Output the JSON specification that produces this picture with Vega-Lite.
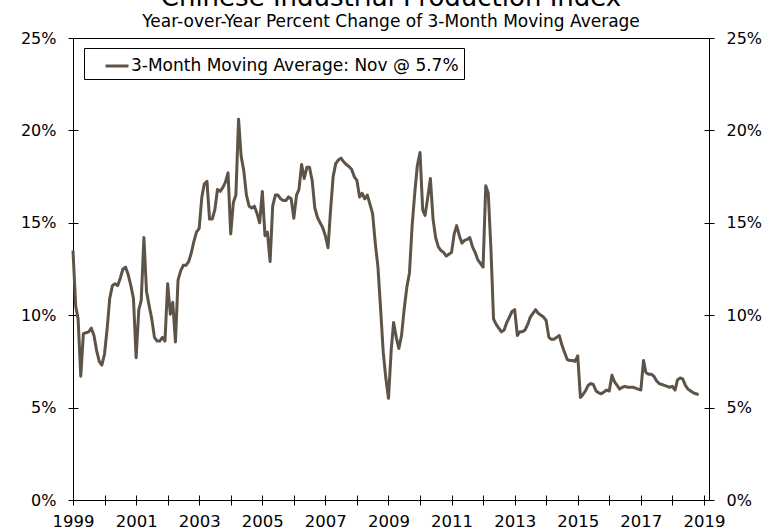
{
  "$schema": "https://vega.github.io/schema/vega-lite/v6.json",
  "width": 636,
  "height": 462,
  "autosize": "none",
  "padding": {"left": 73, "top": 38, "right": 62, "bottom": 29},
  "background": "white",
  "title": {
    "text": "Chinese Industrial Production Index",
    "subtitle": "Year-over-Year Percent Change of 3-Month Moving Average",
    "anchor": "middle",
    "font": "DejaVu Sans",
    "fontSize": 26,
    "fontWeight": "normal",
    "color": "black",
    "subtitleFont": "DejaVu Sans",
    "subtitleFontSize": 17,
    "subtitleColor": "black",
    "subtitlePadding": 3,
    "offset": 0
  },
  "config": {
    "view": {"stroke": "black", "strokeWidth": 1},
    "axis": {
      "grid": false,
      "domainColor": "black",
      "tickColor": "black",
      "labelColor": "black",
      "labelFont": "DejaVu Sans",
      "labelFontSize": 16,
      "title": null
    }
  },
  "data": {
    "values": [
      {"d": "1999-01", "v": 13.5}, {"d": "1999-02", "v": 10.5}, {"d": "1999-03", "v": 9.8}, {"d": "1999-04", "v": 6.7}, {"d": "1999-05", "v": 9.0}, {"d": "1999-06", "v": 9.05}, {"d": "1999-07", "v": 9.1}, {"d": "1999-08", "v": 9.3}, {"d": "1999-09", "v": 8.9}, {"d": "1999-10", "v": 8.1}, {"d": "1999-11", "v": 7.5}, {"d": "1999-12", "v": 7.3},
      {"d": "2000-01", "v": 7.9}, {"d": "2000-02", "v": 9.3}, {"d": "2000-03", "v": 10.9}, {"d": "2000-04", "v": 11.6}, {"d": "2000-05", "v": 11.7}, {"d": "2000-06", "v": 11.6}, {"d": "2000-07", "v": 12.0}, {"d": "2000-08", "v": 12.5}, {"d": "2000-09", "v": 12.6}, {"d": "2000-10", "v": 12.2}, {"d": "2000-11", "v": 11.6}, {"d": "2000-12", "v": 10.9},
      {"d": "2001-01", "v": 7.7}, {"d": "2001-02", "v": 10.3}, {"d": "2001-03", "v": 10.8}, {"d": "2001-04", "v": 14.2}, {"d": "2001-05", "v": 11.3}, {"d": "2001-06", "v": 10.5}, {"d": "2001-07", "v": 9.8}, {"d": "2001-08", "v": 8.8}, {"d": "2001-09", "v": 8.6}, {"d": "2001-10", "v": 8.6}, {"d": "2001-11", "v": 8.8}, {"d": "2001-12", "v": 8.6},
      {"d": "2002-01", "v": 11.7}, {"d": "2002-02", "v": 10.05}, {"d": "2002-03", "v": 10.7}, {"d": "2002-04", "v": 8.55}, {"d": "2002-05", "v": 11.9}, {"d": "2002-06", "v": 12.4}, {"d": "2002-07", "v": 12.7}, {"d": "2002-08", "v": 12.7}, {"d": "2002-09", "v": 12.9}, {"d": "2002-10", "v": 13.35}, {"d": "2002-11", "v": 14.0}, {"d": "2002-12", "v": 14.5},
      {"d": "2003-01", "v": 14.7}, {"d": "2003-02", "v": 16.4}, {"d": "2003-03", "v": 17.1}, {"d": "2003-04", "v": 17.25}, {"d": "2003-05", "v": 15.2}, {"d": "2003-06", "v": 15.2}, {"d": "2003-07", "v": 15.7}, {"d": "2003-08", "v": 16.8}, {"d": "2003-09", "v": 16.7}, {"d": "2003-10", "v": 16.9}, {"d": "2003-11", "v": 17.2}, {"d": "2003-12", "v": 17.7},
      {"d": "2004-01", "v": 14.4}, {"d": "2004-02", "v": 16.1}, {"d": "2004-03", "v": 16.5}, {"d": "2004-04", "v": 20.6}, {"d": "2004-05", "v": 18.6}, {"d": "2004-06", "v": 17.8}, {"d": "2004-07", "v": 16.5}, {"d": "2004-08", "v": 15.9}, {"d": "2004-09", "v": 15.8}, {"d": "2004-10", "v": 15.9}, {"d": "2004-11", "v": 15.5}, {"d": "2004-12", "v": 15.0},
      {"d": "2005-01", "v": 16.7}, {"d": "2005-02", "v": 14.3}, {"d": "2005-03", "v": 14.5}, {"d": "2005-04", "v": 12.9}, {"d": "2005-05", "v": 15.9}, {"d": "2005-06", "v": 16.5}, {"d": "2005-07", "v": 16.5}, {"d": "2005-08", "v": 16.3}, {"d": "2005-09", "v": 16.2}, {"d": "2005-10", "v": 16.2}, {"d": "2005-11", "v": 16.4}, {"d": "2005-12", "v": 16.3},
      {"d": "2006-01", "v": 15.25}, {"d": "2006-02", "v": 16.5}, {"d": "2006-03", "v": 16.8}, {"d": "2006-04", "v": 18.15}, {"d": "2006-05", "v": 17.4}, {"d": "2006-06", "v": 18.0}, {"d": "2006-07", "v": 18.0}, {"d": "2006-08", "v": 17.3}, {"d": "2006-09", "v": 15.8}, {"d": "2006-10", "v": 15.3}, {"d": "2006-11", "v": 15.0}, {"d": "2006-12", "v": 14.75},
      {"d": "2007-01", "v": 14.3}, {"d": "2007-02", "v": 13.65}, {"d": "2007-03", "v": 15.6}, {"d": "2007-04", "v": 17.5}, {"d": "2007-05", "v": 18.2}, {"d": "2007-06", "v": 18.4}, {"d": "2007-07", "v": 18.5}, {"d": "2007-08", "v": 18.3}, {"d": "2007-09", "v": 18.15}, {"d": "2007-10", "v": 18.05}, {"d": "2007-11", "v": 17.9}, {"d": "2007-12", "v": 17.5},
      {"d": "2008-01", "v": 17.3}, {"d": "2008-02", "v": 16.4}, {"d": "2008-03", "v": 16.6}, {"d": "2008-04", "v": 16.3}, {"d": "2008-05", "v": 16.5}, {"d": "2008-06", "v": 16.0}, {"d": "2008-07", "v": 15.5}, {"d": "2008-08", "v": 13.9}, {"d": "2008-09", "v": 12.6}, {"d": "2008-10", "v": 10.4}, {"d": "2008-11", "v": 8.0}, {"d": "2008-12", "v": 6.6},
      {"d": "2009-01", "v": 5.5}, {"d": "2009-02", "v": 8.1}, {"d": "2009-03", "v": 9.6}, {"d": "2009-04", "v": 8.8}, {"d": "2009-05", "v": 8.2}, {"d": "2009-06", "v": 8.9}, {"d": "2009-07", "v": 10.3}, {"d": "2009-08", "v": 11.5}, {"d": "2009-09", "v": 12.3}, {"d": "2009-10", "v": 14.8}, {"d": "2009-11", "v": 16.6}, {"d": "2009-12", "v": 18.1},
      {"d": "2010-01", "v": 18.8}, {"d": "2010-02", "v": 15.7}, {"d": "2010-03", "v": 15.4}, {"d": "2010-04", "v": 16.4}, {"d": "2010-05", "v": 17.4}, {"d": "2010-06", "v": 15.2}, {"d": "2010-07", "v": 14.2}, {"d": "2010-08", "v": 13.7}, {"d": "2010-09", "v": 13.5}, {"d": "2010-10", "v": 13.4}, {"d": "2010-11", "v": 13.2}, {"d": "2010-12", "v": 13.3},
      {"d": "2011-01", "v": 13.4}, {"d": "2011-02", "v": 14.4}, {"d": "2011-03", "v": 14.85}, {"d": "2011-04", "v": 14.3}, {"d": "2011-05", "v": 13.9}, {"d": "2011-06", "v": 14.05}, {"d": "2011-07", "v": 14.1}, {"d": "2011-08", "v": 14.2}, {"d": "2011-09", "v": 13.7}, {"d": "2011-10", "v": 13.4}, {"d": "2011-11", "v": 13.0}, {"d": "2011-12", "v": 12.8},
      {"d": "2012-01", "v": 12.6}, {"d": "2012-02", "v": 17.0}, {"d": "2012-03", "v": 16.6}, {"d": "2012-04", "v": 13.6}, {"d": "2012-05", "v": 9.8}, {"d": "2012-06", "v": 9.5}, {"d": "2012-07", "v": 9.3}, {"d": "2012-08", "v": 9.1}, {"d": "2012-09", "v": 9.2}, {"d": "2012-10", "v": 9.6}, {"d": "2012-11", "v": 9.9}, {"d": "2012-12", "v": 10.2},
      {"d": "2013-01", "v": 10.3}, {"d": "2013-02", "v": 8.9}, {"d": "2013-03", "v": 9.1}, {"d": "2013-04", "v": 9.1}, {"d": "2013-05", "v": 9.2}, {"d": "2013-06", "v": 9.5}, {"d": "2013-07", "v": 9.9}, {"d": "2013-08", "v": 10.1}, {"d": "2013-09", "v": 10.3}, {"d": "2013-10", "v": 10.1}, {"d": "2013-11", "v": 10.0}, {"d": "2013-12", "v": 9.9},
      {"d": "2014-01", "v": 9.7}, {"d": "2014-02", "v": 8.8}, {"d": "2014-03", "v": 8.7}, {"d": "2014-04", "v": 8.7}, {"d": "2014-05", "v": 8.8}, {"d": "2014-06", "v": 8.9}, {"d": "2014-07", "v": 8.4}, {"d": "2014-08", "v": 8.0}, {"d": "2014-09", "v": 7.6}, {"d": "2014-10", "v": 7.55}, {"d": "2014-11", "v": 7.55}, {"d": "2014-12", "v": 7.5},
      {"d": "2015-01", "v": 7.8}, {"d": "2015-02", "v": 5.55}, {"d": "2015-03", "v": 5.7}, {"d": "2015-04", "v": 5.9}, {"d": "2015-05", "v": 6.2}, {"d": "2015-06", "v": 6.3}, {"d": "2015-07", "v": 6.25}, {"d": "2015-08", "v": 5.9}, {"d": "2015-09", "v": 5.8}, {"d": "2015-10", "v": 5.75}, {"d": "2015-11", "v": 5.85}, {"d": "2015-12", "v": 5.95},
      {"d": "2016-01", "v": 5.9}, {"d": "2016-02", "v": 6.75}, {"d": "2016-03", "v": 6.4}, {"d": "2016-04", "v": 6.2}, {"d": "2016-05", "v": 6.0}, {"d": "2016-06", "v": 6.1}, {"d": "2016-07", "v": 6.15}, {"d": "2016-08", "v": 6.1}, {"d": "2016-09", "v": 6.1}, {"d": "2016-10", "v": 6.1}, {"d": "2016-11", "v": 6.05}, {"d": "2016-12", "v": 6.0},
      {"d": "2017-01", "v": 5.95}, {"d": "2017-02", "v": 7.55}, {"d": "2017-03", "v": 6.9}, {"d": "2017-04", "v": 6.8}, {"d": "2017-05", "v": 6.8}, {"d": "2017-06", "v": 6.7}, {"d": "2017-07", "v": 6.45}, {"d": "2017-08", "v": 6.3}, {"d": "2017-09", "v": 6.25}, {"d": "2017-10", "v": 6.2}, {"d": "2017-11", "v": 6.15}, {"d": "2017-12", "v": 6.1},
      {"d": "2018-01", "v": 6.15}, {"d": "2018-02", "v": 5.95}, {"d": "2018-03", "v": 6.5}, {"d": "2018-04", "v": 6.6}, {"d": "2018-05", "v": 6.55}, {"d": "2018-06", "v": 6.2}, {"d": "2018-07", "v": 6.0}, {"d": "2018-08", "v": 5.9}, {"d": "2018-09", "v": 5.8}, {"d": "2018-10", "v": 5.75}, {"d": "2018-11", "v": 5.7}
    ]
  },
  "layer": [
    {
      "mark": {"type": "line", "strokeWidth": 3, "strokeJoin": "round"},
      "encoding": {
        "x": {
          "field": "d", "type": "temporal",
          "scale": {"type": "utc", "domain": [{"year": 1999, "month": 1, "date": 1, "utc": true}, {"year": 2019, "month": 3, "date": 1, "utc": true}]},
          "axis": {
            "orient": "bottom",
            "values": [{"year": 1999, "utc": true}, {"year": 2000, "utc": true}, {"year": 2001, "utc": true}, {"year": 2002, "utc": true}, {"year": 2003, "utc": true}, {"year": 2004, "utc": true}, {"year": 2005, "utc": true}, {"year": 2006, "utc": true}, {"year": 2007, "utc": true}, {"year": 2008, "utc": true}, {"year": 2009, "utc": true}, {"year": 2010, "utc": true}, {"year": 2011, "utc": true}, {"year": 2012, "utc": true}, {"year": 2013, "utc": true}, {"year": 2014, "utc": true}, {"year": 2015, "utc": true}, {"year": 2016, "utc": true}, {"year": 2017, "utc": true}, {"year": 2018, "utc": true}, {"year": 2019, "utc": true}],
            "labelExpr": "utcyear(datum.value) % 2 == 1 ? utcFormat(datum.value, '%Y') : ''",
            "labelFontSize": 16.5,
            "tickSize": 5,
            "labelPadding": 8,
            "labelFlush": false,
            "labelOverlap": false
          }
        },
        "y": {
          "field": "v", "type": "quantitative",
          "scale": {"domain": [0, 25], "nice": false},
          "axis": {"orient": "left", "values": [0, 5, 10, 15, 20, 25], "labelExpr": "datum.value + '%'", "tickSize": 5, "labelPadding": 12}
        },
        "color": {
          "datum": "3-Month Moving Average: Nov @ 5.7%",
          "scale": {"range": ["#5e5347"]},
          "legend": {
            "orient": "none", "legendX": 11, "legendY": 10,
            "title": null,
            "strokeColor": "black", "fillColor": "white", "padding": 5,
            "symbolType": "stroke", "symbolStrokeWidth": 3, "symbolSize": 529, "symbolOffset": 15,
            "labelFont": "DejaVu Sans", "labelFontSize": 17, "labelColor": "black", "labelOffset": 1, "labelLimit": 700
          }
        }
      }
    },
    {
      "mark": {"type": "line", "opacity": 0},
      "encoding": {
        "x": {"field": "d", "type": "temporal", "axis": {"orient": "bottom", "values": [{"year": 1999, "utc": true}, {"year": 2000, "utc": true}, {"year": 2001, "utc": true}, {"year": 2002, "utc": true}, {"year": 2003, "utc": true}, {"year": 2004, "utc": true}, {"year": 2005, "utc": true}, {"year": 2006, "utc": true}, {"year": 2007, "utc": true}, {"year": 2008, "utc": true}, {"year": 2009, "utc": true}, {"year": 2010, "utc": true}, {"year": 2011, "utc": true}, {"year": 2012, "utc": true}, {"year": 2013, "utc": true}, {"year": 2014, "utc": true}, {"year": 2015, "utc": true}, {"year": 2016, "utc": true}, {"year": 2017, "utc": true}, {"year": 2018, "utc": true}, {"year": 2019, "utc": true}], "labels": false, "domain": false, "tickSize": -5}},
        "y": {"field": "v", "type": "quantitative", "axis": {"orient": "left", "values": [0, 5, 10, 15, 20, 25], "labels": false, "domain": false, "tickSize": -5}}
      }
    },
    {
      "mark": {"type": "line", "opacity": 0},
      "encoding": {
        "x": {"field": "d", "type": "temporal", "axis": null},
        "y": {"field": "v", "type": "quantitative", "axis": {"orient": "right", "values": [0, 5, 10, 15, 20, 25], "labelExpr": "datum.value + '%'", "tickSize": 5, "labelPadding": 12}}
      }
    },
    {
      "mark": {"type": "line", "opacity": 0},
      "encoding": {
        "x": {"field": "d", "type": "temporal", "axis": null},
        "y": {"field": "v", "type": "quantitative", "axis": {"orient": "right", "values": [0, 5, 10, 15, 20, 25], "labels": false, "domain": false, "tickSize": -5}}
      }
    }
  ],
  "resolve": {"axis": {"x": "independent", "y": "independent"}}
}
